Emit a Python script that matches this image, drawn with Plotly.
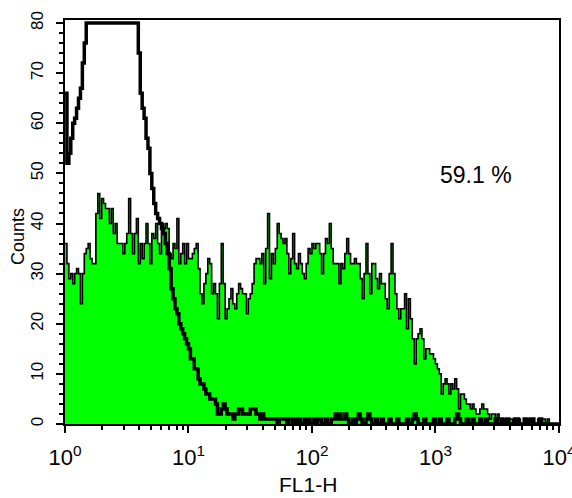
import numpy as np
import plotly.graph_objects as go

# FL1-H channel counts (256 log channels spanning 10^0..10^4)
stained_counts = [
    36, 32, 29, 30, 28, 30, 31, 30, 24, 30, 34, 35, 36, 33, 32, 32,
    42, 46, 41, 45, 44, 43, 43, 40, 43, 38, 40, 36, 36, 36, 34, 36,
    38, 45, 38, 34, 38, 41, 32, 36, 33, 36, 40, 36, 32, 38, 37, 40,
    36, 34, 40, 39, 40, 39, 34, 33, 36, 35, 41, 32, 34, 36, 32, 36,
    33, 33, 34, 35, 36, 31, 26, 24, 28, 30, 33, 32, 26, 28, 26, 21,
    28, 36, 28, 21, 23, 25, 27, 24, 23, 26, 28, 27, 26, 26, 22, 25,
    26, 28, 32, 33, 33, 32, 34, 28, 35, 42, 29, 34, 32, 35, 40, 38,
    37, 36, 37, 34, 30, 33, 38, 32, 31, 34, 32, 30, 29, 32, 35, 34,
    36, 35, 36, 36, 34, 30, 34, 37, 36, 40, 35, 32, 32, 32, 28, 32,
    31, 34, 37, 34, 32, 32, 33, 32, 32, 29, 25, 30, 36, 30, 26, 32,
    32, 29, 27, 30, 28, 28, 25, 23, 30, 36, 30, 26, 23, 21, 23, 23,
    26, 19, 25, 21, 17, 12, 17, 18, 19, 17, 13, 15, 15, 14, 14, 13,
    12, 11, 10, 6, 8, 9, 8, 6, 8, 7, 9, 7, 3, 6, 6, 5,
    4, 4, 3, 4, 3, 2, 2, 3, 4, 3, 3, 2, 1, 2, 2, 1,
    2, 1, 1, 1, 0, 1, 1, 1, 0, 1, 0, 1, 0, 0, 1, 0,
    1, 0, 1, 0, 0, 1, 0, 1, 1, 0, 1, 0, 0, 0, 0, 0,
]

control_counts = [
    66, 52, 54, 57, 60, 61, 63, 65, 67, 72, 76, 80, 80, 80, 80, 80,
    80, 80, 80, 80, 80, 80, 80, 80, 80, 80, 80, 80, 80, 80, 80, 80,
    80, 80, 80, 80, 80, 80, 74, 66, 63, 61, 57, 55, 50, 47, 44, 42,
    41, 40, 39, 38, 36, 34, 31, 27, 25, 23, 22, 20, 19, 18, 17, 16,
    15, 13, 13, 11, 11, 9, 8, 8, 7, 6, 6, 5, 5, 5, 4, 2,
    2, 3, 4, 3, 2, 2, 2, 1, 2, 2, 3, 3, 2, 2, 2, 2,
    3, 3, 3, 2, 2, 1, 2, 1, 1, 1, 1, 1, 1, 1, 0, 1,
    1, 1, 1, 0, 1, 1, 0, 1, 0, 1, 0, 0, 1, 0, 1, 0,
    0, 1, 0, 1, 1, 0, 0, 1, 0, 0, 1, 1, 2, 1, 2, 1,
    1, 2, 1, 0, 0, 1, 0, 1, 2, 1, 0, 0, 1, 2, 1, 0,
    0, 1, 0, 0, 1, 0, 0, 0, 1, 0, 0, 0, 1, 0, 0, 0,
    0, 1, 0, 0, 1, 2, 1, 0, 0, 0, 1, 0, 0, 0, 0, 1,
    0, 0, 1, 0, 0, 0, 1, 0, 0, 0, 1, 2, 1, 0, 0, 0,
    1, 0, 0, 1, 0, 0, 0, 1, 0, 0, 1, 0, 0, 0, 0, 1,
    0, 0, 1, 0, 0, 1, 0, 0, 0, 1, 1, 0, 0, 0, 1, 0,
    0, 1, 1, 0, 0, 0, 1, 0, 0, 0, 0, 0, 0, 0, 0, 0,
]

x_tick_vals = [1, 10, 100, 1000, 10000]
x_tick_text = ["10<sup>0</sup>", "10<sup>1</sup>", "10<sup>2</sup>", "10<sup>3</sup>", "10<sup>4</sup>"]
y_tick_vals = [0, 10, 20, 30, 40, 50, 60, 70, 80]
percent_label = "59.1 %"

n_ch = len(stained_counts)
edges = 10 ** (np.arange(n_ch + 1) * 4.0 / n_ch)

fig = go.Figure()
fig.add_trace(go.Scatter(
    x=edges, y=stained_counts + [stained_counts[-1]],
    mode="lines", line=dict(shape="hv", color="black", width=1.6),
    fill="tozeroy", fillcolor="#00ff00", hoverinfo="skip", showlegend=False,
))
fig.add_trace(go.Scatter(
    x=edges, y=control_counts + [control_counts[-1]],
    mode="lines", line=dict(shape="hv", color="black", width=3.5),
    hoverinfo="skip", showlegend=False,
))

minor_x = [m * 10 ** d for d in range(4) for m in range(2, 10)]

fig.update_xaxes(
    type="log", range=[0, 4.0005], showgrid=False, zeroline=False,
    showline=True, linecolor="black", linewidth=2, mirror=True,
    tickvals=x_tick_vals, ticktext=x_tick_text,
    ticks="outside", ticklen=7, tickwidth=2, tickcolor="black",
    ticklabelstandoff=6, ticklabeloverflow="allow", automargin=False,
    tickfont=dict(family="Liberation Sans Narrow, Arial Narrow, Liberation Sans, sans-serif", size=22, color="black"),
    minor=dict(tickvals=minor_x, ticks="outside", ticklen=4, tickwidth=1.5, tickcolor="black", showgrid=False),
)
fig.update_yaxes(
    range=[0, 80.6], showgrid=False, zeroline=False,
    showline=True, linecolor="black", linewidth=2, mirror=True,
    tickvals=y_tick_vals, ticks="outside", ticklen=7, tickwidth=2, tickcolor="black",
    tickangle=-90, ticklabelstandoff=6, automargin=False,
    tickfont=dict(family="Liberation Sans, Arial, sans-serif", size=17, color="black"),
    minor=dict(dtick=2, ticks="outside", ticklen=4, tickwidth=1.5, tickcolor="black", showgrid=False),
)

fig.add_annotation(text="Counts", xref="paper", yref="paper", x=-0.095, y=0.463,
                   xanchor="center", yanchor="middle",
                   textangle=-90, showarrow=False,
                   font=dict(family="Liberation Sans, Arial, sans-serif", size=18, color="black"))
fig.add_annotation(text="FL1-H", xref="paper", yref="paper", x=0.492, y=-0.149,
                   xanchor="center", yanchor="middle",
                   showarrow=False,
                   font=dict(family="Liberation Sans Narrow, Arial Narrow, Liberation Sans, sans-serif", size=21, color="black"))
fig.add_annotation(text=percent_label, xref="paper", yref="paper", x=0.832, y=0.616,
                   xanchor="center", yanchor="middle",
                   showarrow=False,
                   font=dict(family="Liberation Sans, Arial, sans-serif", size=23, color="black"))

fig.update_layout(
    width=572, height=498,
    margin=dict(l=65, r=13, t=20, b=74, autoexpand=False),
    paper_bgcolor="white", plot_bgcolor="white",
)
fig.write_html("out.html")
